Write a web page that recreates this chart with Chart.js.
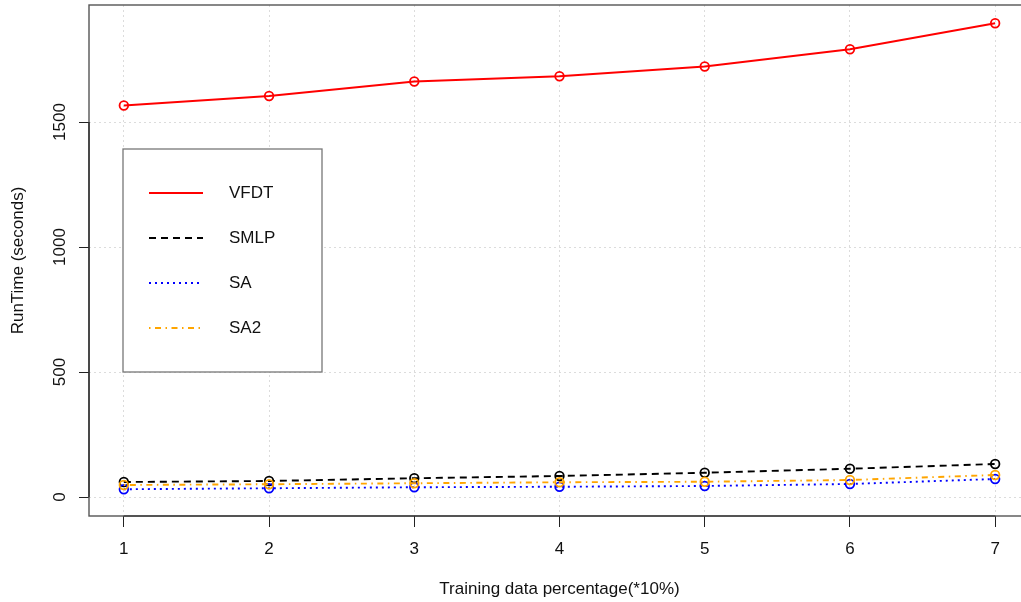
<!DOCTYPE html>
<html>
<head>
<meta charset="utf-8">
<script src="https://cdn.jsdelivr.net/npm/chart.js@4/dist/chart.umd.min.js"></script>
<style>
  html, body { margin: 0; padding: 0; background: #fff; overflow: hidden; }
  #wrap { width: 1031px; height: 602px; }
</style>
</head>
<body>
<div id="wrap"><canvas id="runtime" width="1031" height="602"></canvas></div>
<script>
// training data percentage (*10%)
var pct = [1, 2, 3, 4, 5, 6, 7];
var yTicks = [0, 500, 1000, 1500];

// runtime in seconds
var vfdt = [1566, 1604, 1662, 1683, 1722, 1791, 1895];
var smlp = [60, 64, 75, 84, 97, 113, 132];
var sa   = [31, 35, 39, 41, 44, 52, 72];
var sa2  = [48, 51, 55, 59, 61, 68, 88];

var names  = ['VFDT', 'SMLP', 'SA', 'SA2'];
var colors = ['#ff0000', '#000000', '#0000ff', '#ffa500'];
var dashes = [[], [7, 5], [2, 4], [1.5, 4.5, 6, 4.5]];

var FONT = '"Liberation Sans", Arial, sans-serif';

function pts(ys) {
  return pct.map(function (x, i) { return { x: x, y: ys[i] }; });
}

var datasets = [vfdt, smlp, sa, sa2].map(function (ys, i) {
  return {
    label: names[i],
    data: pts(ys),
    borderColor: colors[i],
    backgroundColor: 'rgba(0,0,0,0)',
    borderWidth: 1.9,
    borderDash: dashes[i],
    pointRadius: 4.3,
    pointBorderWidth: 1.8,
    pointBorderColor: colors[i],
    pointBackgroundColor: 'rgba(0,0,0,0)',
    tension: 0,
    order: 4 - i
  };
});

// box, y tick labels and the legend, R style
var rStyle = {
  id: 'rStyle',
  afterDraw: function (chart) {
    var ctx = chart.ctx, a = chart.chartArea;
    var xs = chart.scales.x, ys = chart.scales.y;
    ctx.save();
    ctx.strokeStyle = '#555';
    ctx.lineWidth = 1.4;
    ctx.strokeRect(a.left, a.top, a.right - a.left, a.bottom - a.top);

    // axis lines from first to last tick
    ctx.strokeStyle = '#222';
    ctx.lineWidth = 1.2;
    ctx.beginPath();
    ctx.moveTo(xs.getPixelForValue(pct[0]), a.bottom);
    ctx.lineTo(xs.getPixelForValue(pct[pct.length - 1]), a.bottom);
    ctx.moveTo(a.left, ys.getPixelForValue(yTicks[0]));
    ctx.lineTo(a.left, ys.getPixelForValue(yTicks[yTicks.length - 1]));
    ctx.stroke();

    // rotated y tick labels
    ctx.fillStyle = '#111';
    ctx.font = '17px ' + FONT;
    ctx.textAlign = 'center';
    ctx.textBaseline = 'alphabetic';
    yTicks.forEach(function (v) {
      ctx.save();
      ctx.translate(a.left - 24, ys.getPixelForValue(v));
      ctx.rotate(-Math.PI / 2);
      ctx.fillText(String(v), 0, 0);
      ctx.restore();
    });

    // legend
    var lx = 123, ly = 149, lw = 199, lh = 223;
    ctx.fillStyle = '#fff';
    ctx.fillRect(lx, ly, lw, lh);
    ctx.strokeStyle = '#777';
    ctx.lineWidth = 1.3;
    ctx.strokeRect(lx, ly, lw, lh);
    names.forEach(function (n, i) {
      var y = ly + 44 + i * 45;
      ctx.strokeStyle = colors[i];
      ctx.lineWidth = 1.9;
      ctx.setLineDash(dashes[i]);
      ctx.beginPath();
      ctx.moveTo(lx + 26, y);
      ctx.lineTo(lx + 80, y);
      ctx.stroke();
      ctx.setLineDash([]);
      ctx.fillStyle = '#111';
      ctx.textAlign = 'left';
      ctx.textBaseline = 'middle';
      ctx.fillText(n, lx + 106, y);
    });
    ctx.restore();
  }
};

new Chart(document.getElementById('runtime'), {
  type: 'line',
  data: { datasets: datasets },
  plugins: [rStyle],
  options: {
    responsive: false,
    animation: false,
    layout: { autoPadding: false, padding: { left: 0, top: 5, right: 1, bottom: 0 } },
    plugins: { legend: { display: false }, tooltip: { enabled: false } },
    scales: {
      x: {
        type: 'linear',
        min: 0.76,
        max: 7.24,
        afterBuildTicks: function (s) { s.ticks = pct.map(function (v) { return { value: v }; }); },
        afterFit: function (s) { s.height = 86; s.paddingLeft = 0; s.paddingRight = 0; },
        border: { display: false, dash: [2, 3] },
        grid: { color: '#dcdcdc', tickColor: '#222', tickLength: 11, tickBorderDash: [], lineWidth: 1 },
        ticks: { color: '#111', font: { family: FONT, size: 17 }, padding: 12, maxRotation: 0, autoSkip: false },
        title: { display: true, text: 'Training data percentage(*10%)', color: '#111', font: { family: FONT, size: 17 }, padding: { bottom: 2 } }
      },
      y: {
        type: 'linear',
        min: -76,
        max: 1968,
        afterBuildTicks: function (s) { s.ticks = yTicks.map(function (v) { return { value: v }; }); },
        afterFit: function (s) { s.width = 89; s.paddingTop = 0; s.paddingBottom = 0; },
        border: { display: false, dash: [2, 3] },
        grid: { color: '#dcdcdc', tickColor: '#222', tickLength: 10, tickBorderDash: [], lineWidth: 1 },
        ticks: { display: false },
        title: { display: true, text: 'RunTime (seconds)', color: '#111', font: { family: FONT, size: 17 }, padding: { top: 8 } }
      }
    }
  }
});
</script>
</body>
</html>
